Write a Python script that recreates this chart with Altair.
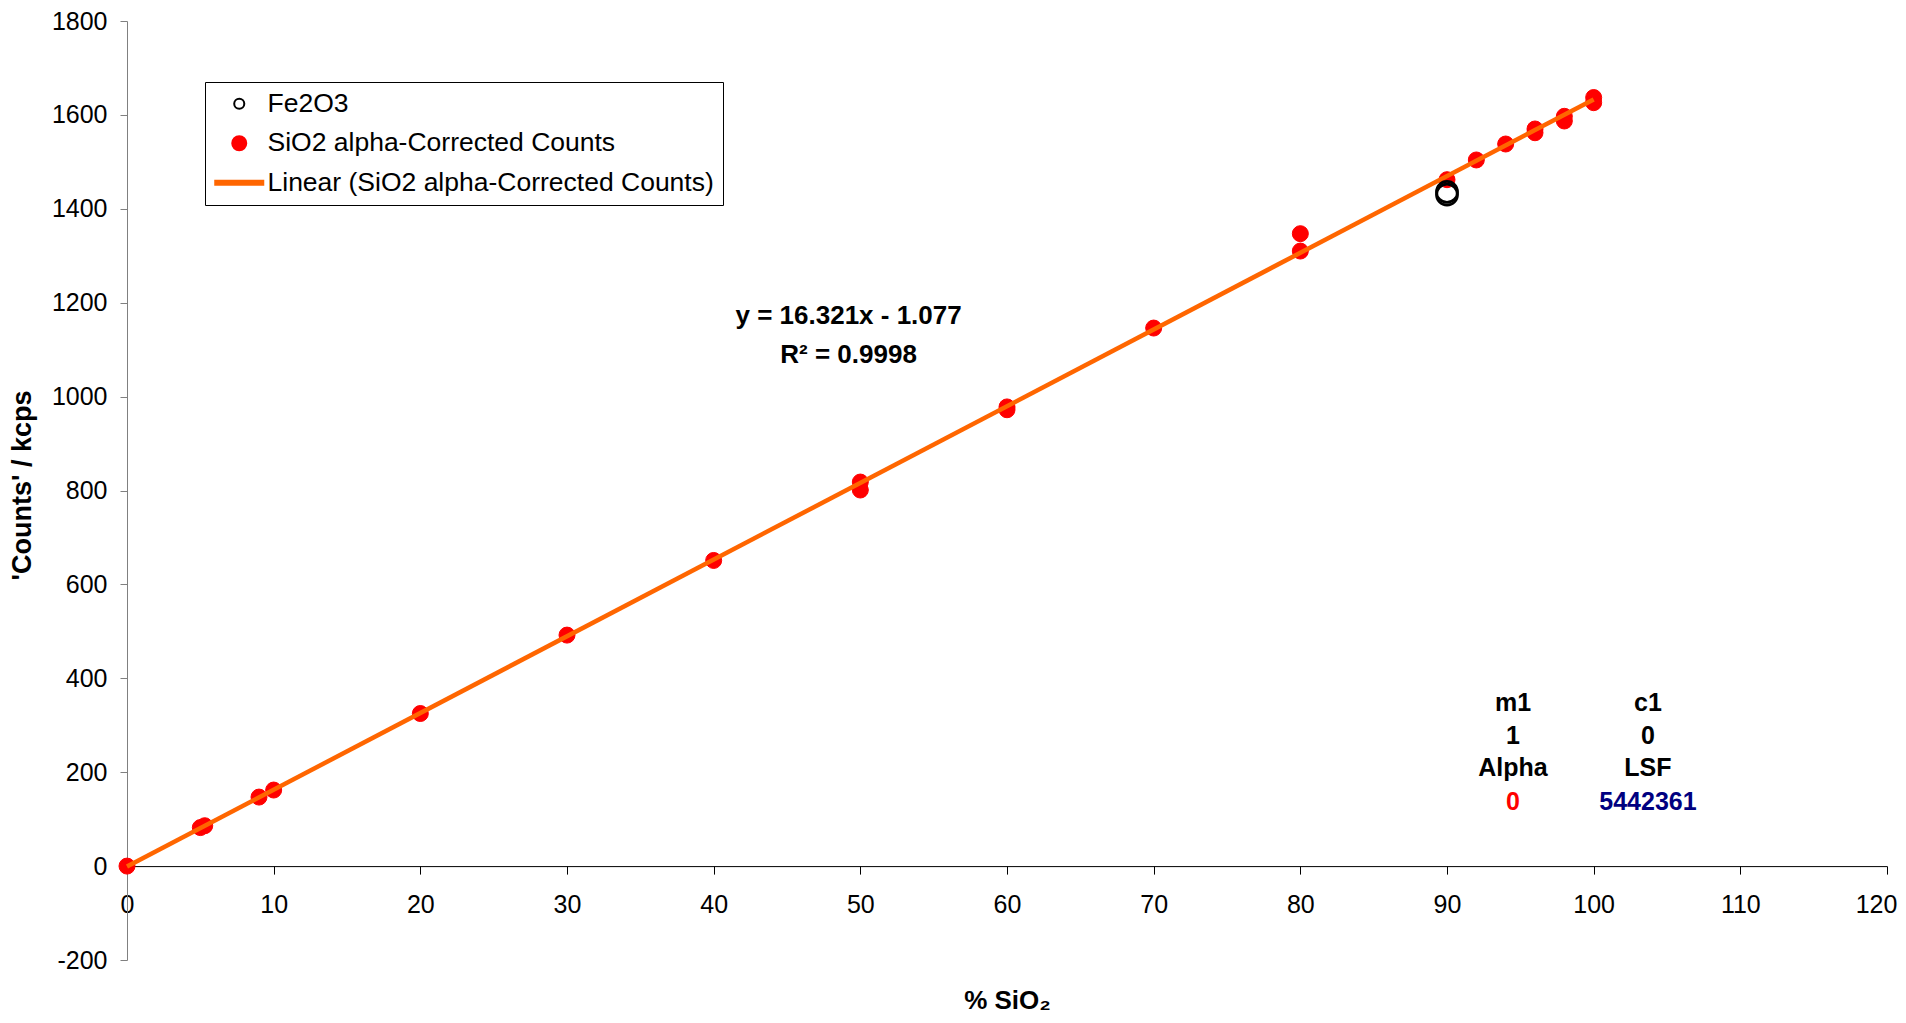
import altair as alt
import pandas as pd

# ---------------- data ----------------
sio2_pct = [0, 5, 5.3, 9, 10, 20, 30, 40, 50, 50, 60, 60, 70, 80, 80,
            90, 92, 94, 96, 96, 98, 98, 100, 100]
sio2_counts = [0, 82, 86, 147, 162, 325, 492, 651, 818, 801, 978, 972, 1146,
               1347, 1310, 1462, 1504, 1538, 1570, 1562, 1597, 1587, 1637, 1626]
fe_pct = [90, 90]
fe_counts = [1436, 1430]

series_names = ["Fe2O3", "SiO2 alpha-Corrected Counts",
                "Linear (SiO2 alpha-Corrected Counts)"]
series_colors = ["#000000", "#FF0000", "#FF6600"]

x_ticks = list(range(0, 121, 10))
y_ticks = list(range(-200, 1801, 200))

eq_text = ["y = 16.321x - 1.077", "R² = 0.9998"]
eq_x = [49.2, 49.2]
eq_y = [1172, 1089]

table_text = ["m1", "c1", "1", "0", "Alpha", "LSF", "0", "5442361"]
table_x = [94.5, 103.7, 94.5, 103.7, 94.5, 103.7, 94.5, 103.7]
table_y = [347, 347, 278, 278, 209, 209, 137, 137]
table_color = ["#000000"] * 6 + ["#FF0000", "#000080"]

# ---------------- tables ----------------
sio2_df = pd.DataFrame({"pct": sio2_pct, "counts": sio2_counts,
                        "series": series_names[1]})
fe_df = pd.DataFrame({"pct": fe_pct, "counts": fe_counts,
                      "series": series_names[0]})
eq_df = pd.DataFrame({"x": eq_x, "y": eq_y, "t": eq_text})
tab_df = pd.DataFrame({"x": table_x, "y": table_y, "t": table_text,
                       "c": table_color})

W, H = 1760, 939
FONT = "Liberation Sans, Arial, sans-serif"

FE_PATH = "M0.72,0A0.72,0.72,0,1,1,-0.72,0A0.72,0.72,0,1,1,0.72,0Z"
LINE_PATH = "M-3.43,-0.3L3.43,-0.3L3.43,0.3L-3.43,0.3Z"

x_scale = alt.Scale(domain=[0, 120], nice=False, zero=False)
y_scale = alt.Scale(domain=[-200, 1800], nice=False, zero=False)

x_axis = alt.Axis(
    values=x_ticks, title="% SiO₂", grid=False, offset=-H * 0.1,
    domainColor="#000000", tickColor="#000000", tickSize=8,
    labelFont=FONT, labelFontSize=25, labelColor="#000000", labelPadding=18,
    labelFlush=False, labelExpr="'' + datum.value",
    labelOffset={"condition": {"test": "datum.value === 120", "value": -11}, "value": 0},
    titleFont=FONT, titleFontSize=26, titleFontWeight="bold", titleColor="#000000",
    titleX=W / 2, titleY=142, titleBaseline="alphabetic", titleAlign="center",
)
y_axis = alt.Axis(
    values=y_ticks, title="'Counts' / kcps", grid=False,
    domainColor="#808080", tickColor="#808080", tickSize=7,
    labelFont=FONT, labelFontSize=25, labelColor="#000000", labelPadding=13,
    labelFlush=False, labelExpr="'' + datum.value",
    titleFont=FONT, titleFontSize=27, titleFontWeight="bold", titleColor="#000000",
    titleX=-105, titleY=464, titleAngle=270, titleAlign="center",
    titleBaseline="middle",
)

legend = alt.Legend(
    title=None, orient="none", legendX=78, legendY=61,
    labelFont=FONT, labelFontSize=26.5, labelColor="#000000", labelLimit=800,
    symbolSize=196, symbolStrokeWidth=2, symbolOffset=12.5, labelOffset=15,
    rowPadding=12.5, padding=8.5, strokeColor="#000000", fillColor="#FFFFFF",
)

shape_enc = alt.Shape("series:N", scale=alt.Scale(
    domain=series_names, range=[FE_PATH, "circle", LINE_PATH]), legend=legend)
stroke_enc = alt.Stroke("series:N", scale=alt.Scale(
    domain=series_names, range=series_colors), legend=legend)
fill_enc = alt.Fill("series:N", scale=alt.Scale(
    domain=series_names, range=["transparent", "#FF0000", "#FF6600"]),
    legend=legend)

x_enc = alt.X("pct:Q", scale=x_scale, axis=x_axis)
y_enc = alt.Y("counts:Q", scale=y_scale, axis=y_axis)

red_pts = alt.Chart(sio2_df).mark_point(size=256, opacity=1, strokeWidth=1).encode(
    x=x_enc, y=y_enc, shape=shape_enc, stroke=stroke_enc, fill=fill_enc)

trend = alt.Chart(sio2_df).transform_regression(
    "pct", "counts", extent=[0, 100]
).mark_line(color="#FF6600", strokeWidth=4.5).encode(
    x=alt.X("pct:Q", scale=x_scale), y=alt.Y("counts:Q", scale=y_scale))

fe_pts = alt.Chart(fe_df).mark_point(size=850, opacity=1, strokeWidth=2.7).encode(
    x=alt.X("pct:Q", scale=x_scale), y=alt.Y("counts:Q", scale=y_scale),
    shape=shape_enc, stroke=stroke_enc, fill=fill_enc)

eq = alt.Chart(eq_df).mark_text(font=FONT, fontSize=26, fontWeight="bold",
                                align="center", baseline="middle",
                                color="#000000").encode(
    x=alt.X("x:Q", scale=x_scale), y=alt.Y("y:Q", scale=y_scale), text="t:N")

tab = alt.Chart(tab_df).mark_text(font=FONT, fontSize=25, fontWeight="bold",
                                  align="center", baseline="middle").encode(
    x=alt.X("x:Q", scale=x_scale), y=alt.Y("y:Q", scale=y_scale), text="t:N",
    color=alt.Color("c:N", scale=None))

chart = alt.layer(red_pts, trend, fe_pts, eq, tab).properties(
    width=W, height=H,
    autosize=alt.AutoSizeParams(type="none"),
    padding={"left": 119, "top": 13, "right": 11, "bottom": 54},
    background="#FFFFFF",
).configure_view(stroke=None)

chart.save("out.html", embed_options={"renderer": "svg", "actions": False})
